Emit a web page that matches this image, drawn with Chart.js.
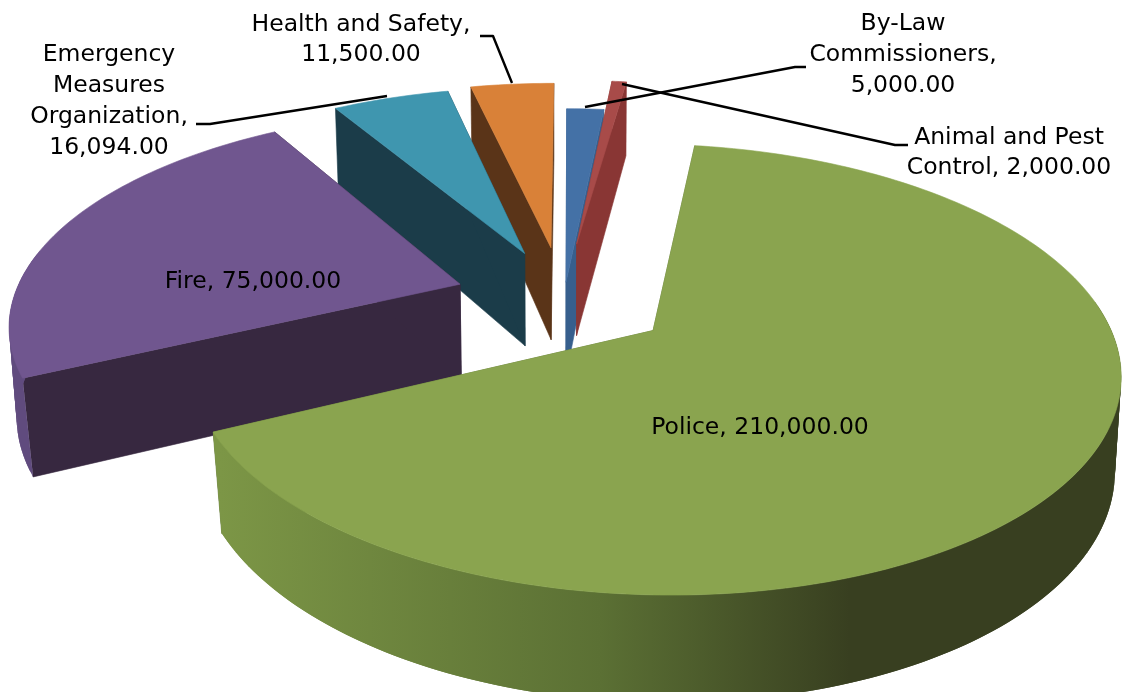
<!DOCTYPE html>
<html lang="en">
<head>
    <meta charset="UTF-8">
    <title>Budget by department</title>
    <script src="https://cdn.jsdelivr.net/npm/chart.js"></script>
    <style>
        html, body { margin: 0; padding: 0; background: #fff; }
        canvas { display: block; }
    </style>
</head>
<body>
    <canvas id="pieChart" width="1122" height="692"></canvas>

    <script>
        const categories = ['Police', 'Fire', 'Emergency Measures Organization', 'Health and Safety', 'By-Law Commissioners', 'Animal and Pest Control'];
        const amounts = [210000, 75000, 16094, 11500, 5000, 2000];

        const topColors = ['#8aa44f', '#70568f', '#3f96af', '#d98138', '#4471a6', '#a84b49'];
        const wallColors = ['#5d7035', '#372840', '#1b3c49', '#5a3418', '#375f8d', '#893634'];
        const rimStops = [
            [[220, '#7c9646'], [600, '#5b7034'], [850, '#383f20']],
            [[0, '#604b7e'], [40, '#604b7e']],
            [[0, '#1b3c49'], [1, '#1b3c49']],
            [[0, '#5a3418'], [1, '#5a3418']],
            [[0, '#375f8d'], [1, '#375f8d']],
            [[0, '#893634'], [1, '#893634']]
        ];

        // how far each slice is pulled out, in pie radii
        const explodeX = [0.19, -0.24, -0.096, -0.035, 0, 0.025];
        const explodeY = [0.105, -0.115, -0.27, -0.3, -0.125, -0.32];
        const drawOrder = [3, 4, 5, 2, 1, 0];

        const labelLines = [
            ['Police, 210,000.00'],
            ['Fire, 75,000.00'],
            ['Emergency', 'Measures', 'Organization,', '16,094.00'],
            ['Health and Safety,', '11,500.00'],
            ['By-Law', 'Commissioners,', '5,000.00'],
            ['Animal and Pest', 'Control, 2,000.00']
        ];
        const labelX = [760, 253, 109, 361, 903, 1009];
        const labelY = [428, 282, 55, 25, 24, 138];
        const labelStep = [31, 31, 31, 30, 31, 30];
        const leaderLines = [
            null,
            null,
            [[196, 124], [210, 124], [387, 96]],
            [[480, 36], [493, 36], [512, 83]],
            [[806, 67], [795, 67], [585, 107]],
            [[908, 145], [895, 145], [622, 84]]
        ];

        const view = { cx: 566, cy: 308, rx: 450, ry: 211, persp: 0.17, leanX: 560, leanLeft: 0.024, leanRight: 0.014 };

        function project(u, v, low) {
            const s = 1 / (1 - view.persp * v);
            let x = view.cx + view.rx * u * s;
            let y = view.cy + view.ry * v * s;
            if (low) {
                // walls lean inwards a little, more at the front than at the back
                const lean = x < view.leanX ? view.leanLeft : view.leanRight;
                x += (view.leanX - x) * lean * Math.max(0.5, 0.5 + v);
                // wall height: shorter at the back, taller at the front
                y += 92 + (v < -0.3 ? 18 : 11) * (v + 0.3);
            }
            return [x, y];
        }

        function fillPoly(ctx, pts, fill, edge) {
            ctx.beginPath();
            pts.forEach((p, i) => i ? ctx.lineTo(p[0], p[1]) : ctx.moveTo(p[0], p[1]));
            ctx.closePath();
            ctx.fillStyle = fill;
            ctx.fill();
            if (edge) {
                ctx.strokeStyle = fill;
                ctx.lineWidth = 0.6;
                ctx.stroke();
            }
        }

        function drawSlice(ctx, arc, i) {
            const ex = explodeX[i], ey = explodeY[i];
            const n = Math.max(4, Math.ceil((arc.endAngle - arc.startAngle) / 0.02));
            const ring = [];
            for (let k = 0; k <= n; k++) {
                const a = arc.startAngle + (arc.endAngle - arc.startAngle) * k / n;
                ring.push([Math.cos(a) + ex, Math.sin(a) + ey]);
            }
            const apex = project(ex, ey, false), apexLow = project(ex, ey, true);
            const first = ring[0], last = ring[n];

            // the two cut faces
            fillPoly(ctx, [apex, project(first[0], first[1], false), project(first[0], first[1], true), apexLow], wallColors[i], true);
            fillPoly(ctx, [apex, project(last[0], last[1], false), project(last[0], last[1], true), apexLow], wallColors[i], true);

            // outer rim, front part only; quads overlap by one step so no seams show
            const stops = rimStops[i];
            const from = stops[0][0], to = stops[stops.length - 1][0];
            const grad = ctx.createLinearGradient(from, 0, to, 0);
            stops.forEach(s => grad.addColorStop((s[0] - from) / (to - from), s[1]));
            const upper = ring.map(p => project(p[0], p[1], false));
            const lower = ring.map(p => project(p[0], p[1], true));
            for (let k = 0; k < n; k++) {
                if (ring[k][1] - ey < -0.15) continue;
                const e = Math.min(k + 2, n);
                fillPoly(ctx, [upper[k], upper[e], lower[e], lower[k]], grad, false);
            }

            // top face
            fillPoly(ctx, [apex].concat(upper), topColors[i], true);
        }

        const pie3d = {
            id: 'pie3d',
            beforeDatasetsDraw(chart) {
                const arcs = chart.getDatasetMeta(0).data;
                chart.ctx.save();
                drawOrder.forEach(i => drawSlice(chart.ctx, arcs[i], i));
                chart.ctx.restore();
                return false;
            },
            afterDraw(chart) {
                const ctx = chart.ctx;
                ctx.save();
                ctx.strokeStyle = '#000';
                ctx.lineWidth = 2.4;
                ctx.lineJoin = 'round';
                leaderLines.forEach(line => {
                    if (!line) return;
                    ctx.beginPath();
                    line.forEach((p, k) => k ? ctx.lineTo(p[0], p[1]) : ctx.moveTo(p[0], p[1]));
                    ctx.stroke();
                });
                ctx.fillStyle = '#000';
                ctx.font = '23.5px "DejaVu Sans"';
                ctx.textAlign = 'center';
                ctx.textBaseline = 'middle';
                labelLines.forEach((lines, i) => {
                    lines.forEach((t, k) => ctx.fillText(t, labelX[i], labelY[i] + k * labelStep[i]));
                });
                ctx.restore();
            }
        };

        new Chart(document.getElementById('pieChart').getContext('2d'), {
            type: 'pie',
            data: {
                labels: categories,
                datasets: [{ data: amounts, backgroundColor: topColors, borderWidth: 0 }]
            },
            options: {
                responsive: false,
                animation: false,
                rotation: 8,
                plugins: { legend: { display: false }, tooltip: { enabled: false } }
            },
            plugins: [pie3d]
        });
    </script>
</body>
</html>
